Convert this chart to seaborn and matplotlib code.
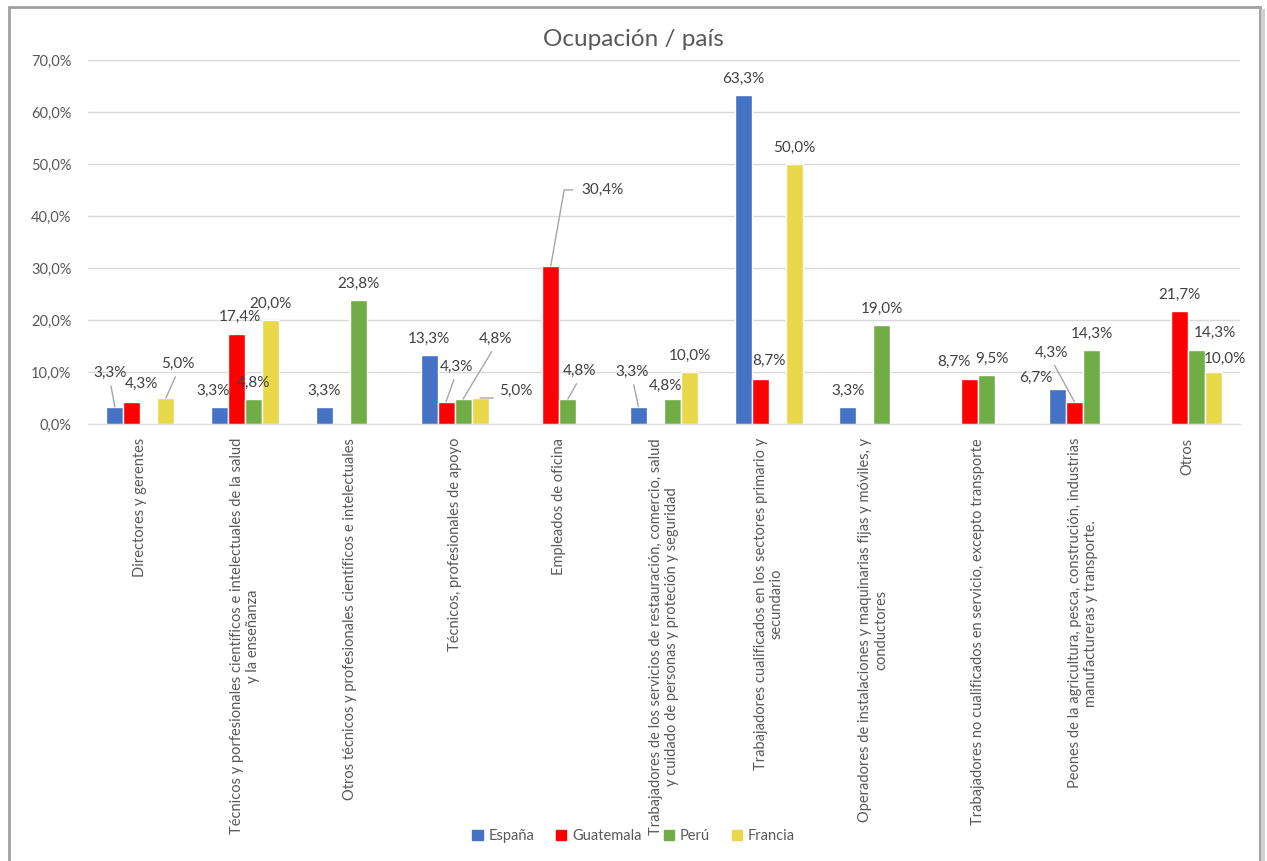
import numpy as np
import pandas as pd
import matplotlib
matplotlib.use("Agg")
import matplotlib.pyplot as plt
import seaborn as sns
from matplotlib.patches import Rectangle

categories = [
    "Directores y gerentes",
    "Técnicos y porfesionales científicos e intelectuales de la salud\ny la enseñanza",
    "Otros técnicos y profesionales científicos e intelectuales",
    "Técnicos, profesionales de apoyo",
    "Empleados de oficina",
    "Trabajadores de los servicios de restauración, comercio, salud\ny cuidado de personas y proteción y seguridad",
    "Trabajadores cualificados en los sectores primario y\nsecundario",
    "Operadores de instalaciones y maquinarias fijas y móviles, y\nconductores",
    "Trabajadores no cualificados en servicio, excepto transporte",
    "Peones de la agricultura, pesca, construción, industrias\nmanufactureras y transporte.",
    "Otros",
]
countries = ["España", "Guatemala", "Perú", "Francia"]
espana = [3.3, 3.3, 3.3, 13.3, np.nan, 3.3, 63.3, 3.3, np.nan, 6.7, np.nan]
guatemala = [4.3, 17.4, np.nan, 4.3, 30.4, np.nan, 8.7, np.nan, 8.7, 4.3, 21.7]
peru = [np.nan, 4.8, 23.8, 4.8, 4.8, 4.8, np.nan, 19.0, 9.5, 14.3, 14.3]
francia = [5.0, 20.0, np.nan, 5.0, np.nan, 10.0, 50.0, np.nan, np.nan, np.nan, 10.0]
colors = ["#4472C4", "#FF0000", "#70AD47", "#E9D84A"]

# label offsets in pixels from bar top (dx, dy, leader line)
label_offsets = {
    (0, 0): (-5, 34, True), (0, 1): (10, 18, False), (0, 3): (12, 34, True),
    (1, 0): (-7, 16, False), (1, 1): (3, 17, False),
    (3, 1): (10, 35, True), (3, 2): (32, 60, True), (3, 3): (36, 7, True),
    (4, 1): (52, 76, "elbow"), (4, 2): (12, 28, True),
    (5, 0): (-6, 35, True), (5, 2): (-7, 13, False),
    (6, 1): (9, 18, False),
    (8, 1): (-16, 17, False), (8, 2): (5, 16, False),
    (9, 0): (-22, 11, False), (9, 1): (-23, 49, True),
    (10, 2): (19, 17, False), (10, 3): (12, 13, False),
}

df = pd.DataFrame({"categoria": categories * 4,
                   "pais": np.repeat(countries, len(categories)),
                   "valor": espana + guatemala + peru + francia})

sns.set_style("white")
plt.rcParams["font.family"] = ["Lato", "DejaVu Sans"]
grey = "#595959"

fig = plt.figure(figsize=(12.67, 8.61), dpi=100)
ax = fig.add_axes([88 / 1267, 1 - 424 / 861, 1152 / 1267, 364 / 861])

sns.barplot(data=df, x="categoria", y="valor", hue="pais", order=categories,
            hue_order=countries, palette=colors, width=0.65, saturation=1,
            gap=0, ax=ax, legend=False)

ax.set_ylim(0, 70)
ax.set_xlim(-0.5, len(categories) - 0.5)
ax.set_yticks(np.arange(0, 71, 10))
ax.set_yticklabels([f"{v:.1f}%".replace(".", ",") for v in np.arange(0, 71, 10)],
                   fontsize=10.5, color=grey)
ax.tick_params(axis="y", length=0, pad=12)
ax.tick_params(axis="x", length=0, pad=10)
ax.set_xticks(range(len(categories)))
ax.set_xticklabels(categories, rotation=90, fontsize=10.5, color=grey,
                   ha="center", va="top", multialignment="center")
ax.set_xlabel("")
ax.set_ylabel("")
ax.grid(axis="y", color="#D9D9D9", linewidth=1)
ax.set_axisbelow(True)
for s in ["top", "right", "left"]:
    ax.spines[s].set_visible(False)
ax.spines["bottom"].set_color("#D9D9D9")

for j, cont in enumerate(ax.containers):
    for bar in cont:
        h = bar.get_height()
        if not np.isfinite(h) or h == 0:
            continue
        x = bar.get_x() + bar.get_width() / 2
        i = int(round(x))
        dx, dy, line = label_offsets.get((i, j), (0, 16, False))
        txt = f"{h:.1f}%".replace(".", ",")
        kw = dict(xytext=(dx, dy), textcoords="offset pixels", ha="center",
                  va="center", fontsize=11, color="#404040")
        if line == "elbow":
            kw["arrowprops"] = dict(arrowstyle="-", color="#A6A6A6", lw=1,
                                    relpos=(0, 0.5), shrinkA=4, shrinkB=0,
                                    connectionstyle="angle,angleA=180,angleB=80,rad=0")
        elif line:
            kw["arrowprops"] = dict(arrowstyle="-", color="#A6A6A6", lw=1,
                                    relpos=(0.5, 0), shrinkA=2, shrinkB=0)
        ax.annotate(txt, (x, h), **kw)

fig.text(0.5, 1 - 40 / 861, "Ocupación / país", ha="center", va="center",
         fontsize=17.5, color=grey)

handles = [Rectangle((0, 0), 1, 1, color=c) for c in colors]
fig.legend(handles, countries, loc="center", bbox_to_anchor=(0.5, 1 - 836 / 861),
           ncol=4, frameon=False, fontsize=10.5, labelcolor=grey,
           handlelength=0.7, handleheight=0.7, handletextpad=0.4, columnspacing=1.5)

# chart frame
fig.add_artist(Rectangle((9 / 1267, -0.01), 1251 / 1267, 1 - 7 / 861 + 0.01,
                         transform=fig.transFigure, fill=False,
                         edgecolor="#A0A0A0", linewidth=2))
fig.add_artist(Rectangle((1261 / 1267, -0.01), 4 / 1267, 1 - 9 / 861 + 0.01,
                         transform=fig.transFigure, color="#D0D0D0", linewidth=0))

fig.savefig("out.png", dpi=100)
